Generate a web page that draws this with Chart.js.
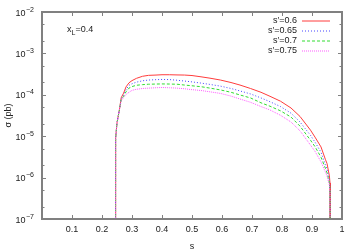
<!DOCTYPE html>
<html>
<head>
<meta charset="utf-8">
<script src="https://cdn.jsdelivr.net/npm/chart.js@4.4.1/dist/chart.umd.min.js"></script>
<style>
  html, body { margin: 0; padding: 0; background: #fff; }
  #wrap { width: 360px; height: 252px; }
</style>
</head>
<body>
<div id="wrap"><canvas id="sigmaChart" width="360" height="252"></canvas></div>
<script>
// s values (shared by all curves)
const sValues = [0.245, 0.2455, 0.25, 0.258, 0.264, 0.272, 0.28, 0.29, 0.3, 0.315, 0.335, 0.355, 0.38, 0.4, 0.425, 0.45, 0.475, 0.5, 0.53, 0.56, 0.595, 0.63, 0.66, 0.695, 0.73, 0.76, 0.795, 0.83, 0.86, 0.895, 0.91, 0.93, 0.945, 0.95, 0.958, 0.96, 0.961];

// sigma (pb) for each s'
const sigma060 = [1e-9, 9e-6, 2.1e-5, 4.3e-5, 8.5e-5, 1.1e-4, 1.55e-4, 1.95e-4, 2.2e-4, 2.5e-4, 2.8e-4, 2.95e-4, 3.0e-4, 3.05e-4, 3.05e-4, 3.02e-4, 3.0e-4, 2.92e-4, 2.72e-4, 2.52e-4, 2.27e-4, 1.98e-4, 1.72e-4, 1.42e-4, 1.15e-4, 9.2e-5, 7.0e-5, 4.8e-5, 3.0e-5, 1.4e-5, 9.5e-6, 5.5e-6, 2.7e-6, 2.2e-6, 1.1e-6, 7.4e-7, 1e-9];
const sigma065 = [1e-9, 9e-6, 2.1e-5, 4.3e-5, 8.0e-5, 1.0e-4, 1.32e-4, 1.7e-4, 1.85e-4, 2.02e-4, 2.18e-4, 2.27e-4, 2.32e-4, 2.35e-4, 2.33e-4, 2.25e-4, 2.15e-4, 2.05e-4, 1.92e-4, 1.78e-4, 1.62e-4, 1.42e-4, 1.24e-4, 1.05e-4, 8.4e-5, 6.8e-5, 5.2e-5, 3.6e-5, 2.2e-5, 1.05e-5, 7.2e-6, 4.1e-6, 2.0e-6, 1.6e-6, 8.7e-7, 6e-7, 1e-9];
const sigma070 = [1e-9, 9e-6, 2.1e-5, 4.3e-5, 7.6e-5, 9.2e-5, 1.18e-4, 1.45e-4, 1.58e-4, 1.7e-4, 1.76e-4, 1.8e-4, 1.82e-4, 1.83e-4, 1.82e-4, 1.8e-4, 1.72e-4, 1.65e-4, 1.57e-4, 1.45e-4, 1.31e-4, 1.15e-4, 9.9e-5, 8.4e-5, 6.4e-5, 5.3e-5, 4.1e-5, 2.9e-5, 1.75e-5, 8e-6, 5.6e-6, 3.1e-6, 1.65e-6, 1.3e-6, 7.5e-7, 5e-7, 1e-9];
const sigma075 = [1e-9, 9e-6, 2.1e-5, 4.3e-5, 7.2e-5, 8.6e-5, 1.02e-4, 1.15e-4, 1.28e-4, 1.36e-4, 1.42e-4, 1.45e-4, 1.48e-4, 1.5e-4, 1.48e-4, 1.45e-4, 1.4e-4, 1.33e-4, 1.27e-4, 1.18e-4, 1.08e-4, 9.3e-5, 7.9e-5, 6.6e-5, 5.2e-5, 4.3e-5, 3.2e-5, 2.2e-5, 1.35e-5, 6.1e-6, 4.3e-6, 2.4e-6, 1.35e-6, 1.1e-6, 6.6e-7, 4.5e-7, 1e-9];

const seriesLabels = ["s\u2032=0.6", "s\u2032=0.65", "s\u2032=0.7", "s\u2032=0.75"];
const xTicks = [0.1, 0.2, 0.3, 0.4, 0.5, 0.6, 0.7, 0.8, 0.9, 1];
const yMajorTicks = [1e-7, 1e-6, 1e-5, 1e-4, 1e-3, 1e-2];
const yMinorTicks = [2e-7, 5e-7, 2e-6, 5e-6, 2e-5, 5e-5, 2e-4, 5e-4, 2e-3, 5e-3];
const annotation = { main: "x", sub: "L", rest: "=0.4" };

const FONT = '"Liberation Sans", Arial, sans-serif';
const TEXT = '#222';
const FRAME = '#808080';

function pts(ys) {
  return sValues.map((s, i) => ({ x: s, y: ys[i] }));
}

const styles = [
  { color: 'rgb(255,60,60)', dash: [] },
  { color: 'rgb(70,70,255)', dash: [1, 2] },
  { color: 'rgb(50,220,50)', dash: [3, 2] },
  { color: 'rgb(255,90,255)', dash: [1, 1] }
];

const datasets = [sigma060, sigma065, sigma070, sigma075].map((ys, i) => ({
  label: seriesLabels[i],
  data: pts(ys),
  borderColor: styles[i].color,
  borderDash: styles[i].dash,
  borderWidth: 1,
  pointRadius: 0,
  fill: false,
  tension: 0,
  order: 3 - i
}));

// frame, inward ticks, superscript y labels, legend, x_L note
const gnuplotLook = {
  id: 'gnuplotLook',
  afterDraw(chart) {
    const ctx = chart.ctx;
    const a = chart.chartArea;
    const xs = chart.scales.x, ys = chart.scales.y;
    ctx.save();
    ctx.strokeStyle = FRAME;
    ctx.lineWidth = 1;
    ctx.beginPath();
    xTicks.forEach(v => {
      const px = Math.round(xs.getPixelForValue(v)) + 0.5;
      ctx.moveTo(px, a.bottom); ctx.lineTo(px, a.bottom - 4);
      ctx.moveTo(px, a.top); ctx.lineTo(px, a.top + 4);
    });
    yMajorTicks.forEach(v => {
      const py = Math.round(ys.getPixelForValue(v)) + 0.5;
      ctx.moveTo(a.left, py); ctx.lineTo(a.left + 4, py);
      ctx.moveTo(a.right, py); ctx.lineTo(a.right - 4, py);
    });
    yMinorTicks.forEach(v => {
      const py = Math.round(ys.getPixelForValue(v)) + 0.5;
      ctx.moveTo(a.left, py); ctx.lineTo(a.left + 2.5, py);
      ctx.moveTo(a.right, py); ctx.lineTo(a.right - 2.5, py);
    });
    ctx.stroke();
    ctx.lineWidth = 2;
    ctx.strokeRect(a.left, a.top, a.right - a.left, a.bottom - a.top);

    // y labels 10^n
    ctx.fillStyle = TEXT;
    ctx.textBaseline = 'alphabetic';
    yMajorTicks.forEach(v => {
      const py = ys.getPixelForValue(v);
      const exp = String(Math.round(Math.log10(v))).replace('-', '\u2212');
      ctx.font = '7px ' + FONT;
      ctx.textAlign = 'left';
      const ew = ctx.measureText(exp).width;
      const right = a.left - 8;
      ctx.fillText(exp, right - ew, py - 0.5);
      ctx.font = '9px ' + FONT;
      ctx.textAlign = 'right';
      ctx.fillText('10', right - ew - 0.5, py + 3.5);
    });

    // legend
    ctx.font = '9px ' + FONT;
    ctx.textAlign = 'right';
    ctx.textBaseline = 'middle';
    seriesLabels.forEach((label, i) => {
      const y = 21 + i * 10;
      ctx.fillStyle = TEXT;
      ctx.fillText(label, 297, y);
      ctx.strokeStyle = styles[i].color;
      ctx.lineWidth = 1;
      ctx.setLineDash(styles[i].dash);
      ctx.beginPath();
      ctx.moveTo(302, y);
      ctx.lineTo(330, y);
      ctx.stroke();
      ctx.setLineDash([]);
    });

    // x_L = 0.4
    ctx.fillStyle = TEXT;
    ctx.textAlign = 'left';
    ctx.textBaseline = 'alphabetic';
    ctx.font = '9px ' + FONT;
    let x = 67;
    ctx.fillText(annotation.main, x, 32);
    x += ctx.measureText(annotation.main).width;
    ctx.font = '7px ' + FONT;
    ctx.fillText(annotation.sub, x, 34.5);
    x += ctx.measureText(annotation.sub).width;
    ctx.font = '9px ' + FONT;
    ctx.fillText(annotation.rest, x, 32);
    ctx.restore();
  }
};

new Chart(document.getElementById('sigmaChart'), {
  type: 'line',
  data: { datasets },
  options: {
    responsive: false,
    animation: false,
    devicePixelRatio: 1,
    layout: { padding: { top: 12, right: 18, left: 0, bottom: 0 } },
    plugins: { legend: { display: false }, tooltip: { enabled: false } },
    scales: {
      x: {
        type: 'linear',
        min: 0,
        max: 1,
        afterBuildTicks: s => { s.ticks = xTicks.map(v => ({ value: v })); },
        afterFit: s => { s.height = 33; },
        grid: { display: false, drawTicks: false },
        border: { display: false },
        ticks: {
          color: TEXT,
          font: { family: FONT, size: 9 },
          padding: 5,
          maxRotation: 0,
          autoSkip: false,
          callback: v => String(Math.round(v * 10) / 10)
        },
        title: { display: true, text: 's', color: TEXT, font: { family: FONT, size: 9 }, padding: { top: 1, bottom: 0 } }
      },
      y: {
        type: 'logarithmic',
        min: 1e-7,
        max: 1e-2,
        afterBuildTicks: s => { s.ticks = yMajorTicks.map(v => ({ value: v })); },
        afterFit: s => { s.width = 42; },
        grid: { display: false, drawTicks: false },
        border: { display: false },
        ticks: { display: true, callback: () => '', font: { size: 1 } },
        title: { display: true, text: '\u03c3 (pb)', color: TEXT, font: { family: FONT, size: 9 }, padding: { top: 3, bottom: 0 } }
      }
    }
  },
  plugins: [gnuplotLook]
});
</script>
</body>
</html>
